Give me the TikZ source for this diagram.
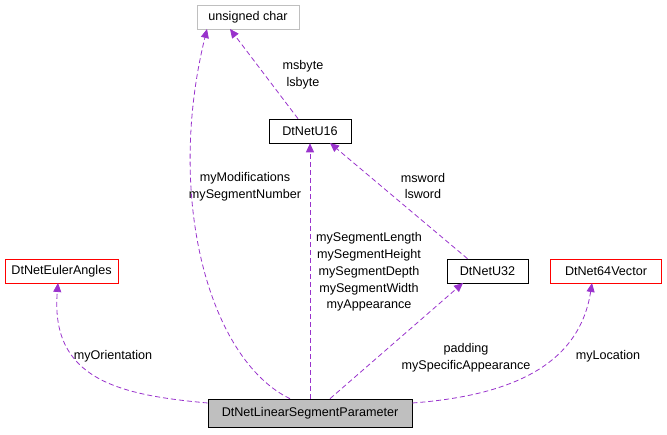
\documentclass[tikz,border=0pt]{standalone}
\usepackage{fontspec}
\setmainfont{Liberation Sans}
\usetikzlibrary{arrows.meta}
\begin{document}
\begin{tikzpicture}[x=1pt,y=-1pt,font=\fontsize{12.6}{16.8}\selectfont,
 box/.style={draw,rectangle,minimum height=24pt,inner sep=2pt,line width=0.6pt},
 edge/.style={draw={rgb,255:red,153;green,50;blue,204},dashed,dash pattern=on 5pt off 3pt,line width=0.8pt,-{Triangle[length=9pt,width=8pt,fill={rgb,255:red,153;green,50;blue,204}]}},
 lab/.style={align=center,inner sep=0pt}]
\useasboundingbox (0,0) rectangle (667,435);
\node[box,draw={rgb,255:red,191;green,191;blue,191},minimum width=102pt] (uc) at (248,17) {unsigned char};
\node[box,minimum width=82pt] (u16) at (310,131) {DtNetU16};
\node[box,draw=red,minimum width=113pt] (ea) at (61.5,271) {DtNetEulerAngles};
\node[box,minimum width=81pt] (u32) at (487.5,271) {DtNetU32};
\node[box,draw=red,minimum width=111pt] (v64) at (606,271) {DtNet64Vector};
\node[box,fill={rgb,255:red,191;green,191;blue,191},minimum width=204pt,minimum height=28pt] (m) at (310,413) {DtNetLinearSegmentParameter};
\draw[edge] (m.north) ++(-20,0) .. controls (210,360) and (165,200) .. (207,29);
\draw[edge] (m.north) -- (u16.south);
\draw[edge] (u16.north) ++(-12,0) -- (230,29);
\draw[edge] (u32.north) ++(-20,0) -- (330,143);
\draw[edge] (m.north) ++(20,0) -- (463,283);
\draw[edge] (m.west) ++(0,-10) .. controls (120,395) and (50,380) .. (58,283);
\draw[edge] (m.east) ++(0,-10) .. controls (520,395) and (580,360) .. (592,283);
\node[lab] (l1) at (245,187) {myModifications\\mySegmentNumber};
\node[lab] (l2) at (369,272) {mySegmentLength\\mySegmentHeight\\mySegmentDepth\\mySegmentWidth\\myAppearance};
\node[lab] (l3) at (303,75) {msbyte\\lsbyte};
\node[lab] (l4) at (423,186) {msword\\lsword};
\node[lab] (l5) at (466,358) {padding\\mySpecificAppearance};
\node[lab] (l6) at (113,356) {myOrientation};
\node[lab] (l7) at (608,356) {myLocation};
\end{tikzpicture}
\end{document}
